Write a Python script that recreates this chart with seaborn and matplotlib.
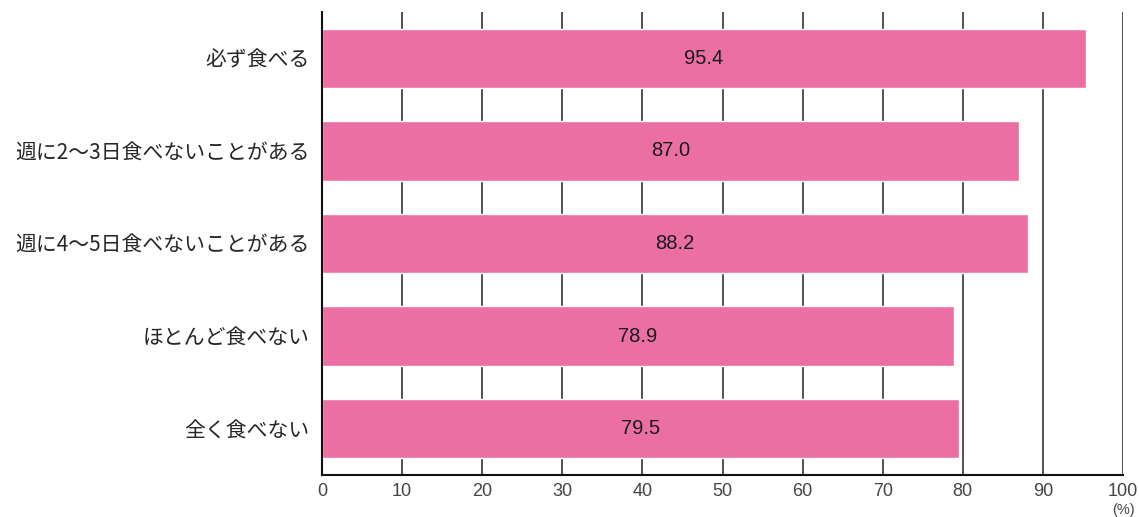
import matplotlib
matplotlib.use("Agg")
import matplotlib.pyplot as plt
import seaborn as sns
import pandas as pd

categories = ["必ず食べる", "週に2〜3日食べないことがある", "週に4〜5日食べないことがある",
              "ほとんど食べない", "全く食べない"]
values = [95.4, 87.0, 88.2, 78.9, 79.5]
x_ticks = [0, 10, 20, 30, 40, 50, 60, 70, 80, 90, 100]

sns.set_style("white")
plt.rcParams["font.family"] = ["Noto Sans CJK JP", "DejaVu Sans"]
num_font = ["Liberation Sans", "DejaVu Sans"]

df = pd.DataFrame({"category": categories, "value": values})

fig = plt.figure(figsize=(11.39, 5.17), dpi=100)
ax = fig.add_axes([322 / 1139, 42 / 517, 801 / 1139, 463 / 517])

for t in x_ticks[1:]:
    ax.axvline(t, color="#333333", lw=1.2, zorder=0)

sns.barplot(data=df, x="value", y="category", orient="h", color="#EC6FA4",
            saturation=1, width=0.64, ax=ax, zorder=2)

for i, v in enumerate(values):
    ax.text(v / 2, i, f"{v:.1f}", ha="center", va="center", fontsize=14.5,
            family=num_font, color="#1a1a1a", zorder=3)

ax.set_xlim(0, 100)
ax.set_ylim(4.5, -0.5)
ax.set_xticks(x_ticks)
ax.set_xticklabels([str(t) for t in x_ticks], fontsize=13, family=num_font,
                   color="#444444")
ax.tick_params(axis="x", length=0, pad=6)
ax.tick_params(axis="y", length=0, pad=9, labelsize=15)
ax.set_xlabel("")
ax.set_ylabel("")
for s in ["top", "right"]:
    ax.spines[s].set_visible(False)
ax.spines["left"].set_color("#111111")
ax.spines["left"].set_linewidth(1.5)
ax.spines["bottom"].set_color("#111111")
ax.spines["bottom"].set_linewidth(1.5)

ax.annotate("(%)", xy=(100, 0), xycoords=ax.get_xaxis_transform(),
            xytext=(0, -25), textcoords="offset points", ha="center", va="center",
            fontsize=10.5, family=num_font, color="#444444")

fig.savefig("out.png", dpi=100)
